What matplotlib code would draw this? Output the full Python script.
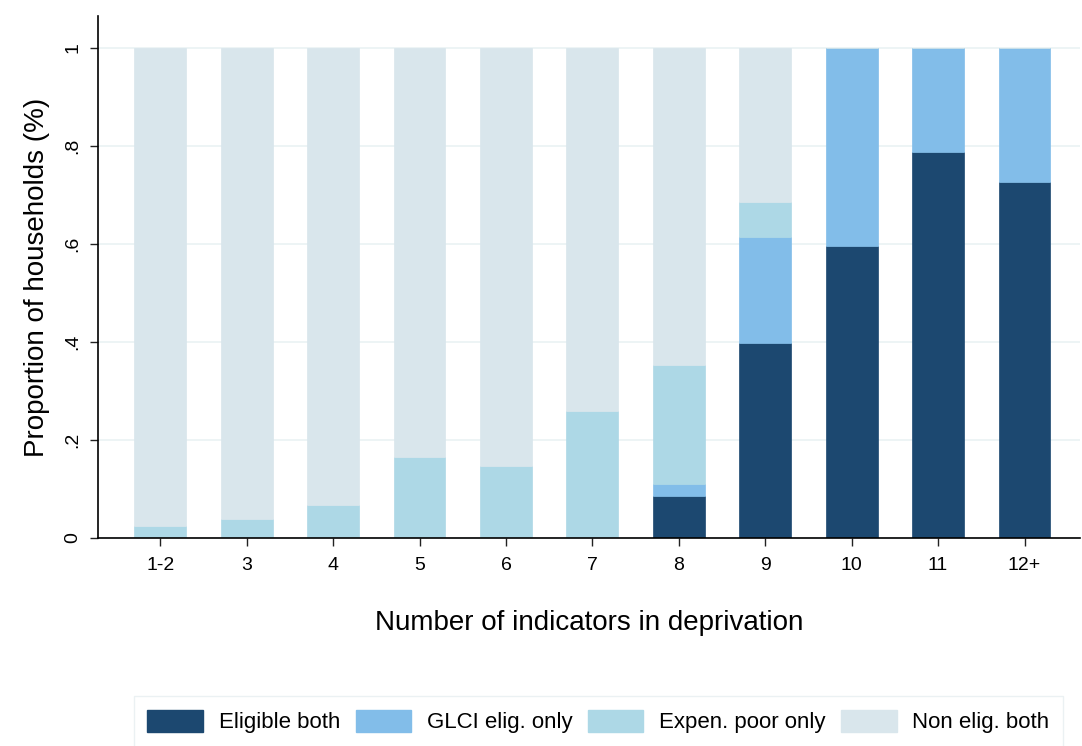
import numpy as np
import matplotlib.pyplot as plt
from matplotlib.patches import Patch

plt.rcParams['font.family'] = ['Liberation Sans', 'DejaVu Sans']

categories = ['1-2', '3', '4', '5', '6', '7', '8', '9', '10', '11', '12+']
eligible_both = [0, 0, 0, 0, 0, 0, 0.086, 0.397, 0.596, 0.788, 0.726]
glci_only = [0, 0, 0, 0, 0, 0, 0.024, 0.217, 0.404, 0.212, 0.274]
expen_only = [0.024, 0.039, 0.067, 0.165, 0.147, 0.258, 0.243, 0.072, 0, 0, 0]
labels = ['Eligible both', 'GLCI elig. only', 'Expen. poor only', 'Non elig. both']
colors = ['#1c4870', '#82bde9', '#add8e6', '#d9e6ec']

eb = np.array(eligible_both)
gl = np.array(glci_only)
ex = np.array(expen_only)
non = 1 - eb - gl - ex

fig = plt.figure(figsize=(10.82, 7.46), dpi=100)
ax = fig.add_axes([0.0906, 0.279, 0.9074, 0.6996])

x = np.arange(len(categories))
bottom = np.zeros(len(categories))
for vals, c in zip([eb, gl, ex, non], colors):
    ax.bar(x, vals, bottom=bottom, width=0.6, color=c, edgecolor=c, linewidth=0.5, zorder=2)
    bottom += vals

ax.set_xlim(-0.72, 10.64)
ax.set_ylim(0, 1.065)
ax.set_yticks([0, 0.2, 0.4, 0.6, 0.8, 1.0])
ax.set_yticklabels(['0', '.2', '.4', '.6', '.8', '1'], rotation=90, va='center', fontsize=14)
ax.set_xticks(x)
ax.set_xticklabels(categories, fontsize=14)
ax.tick_params(axis='both', length=6, width=1, color='#222222')
ax.tick_params(axis='x', pad=8)
ax.tick_params(axis='y', pad=6)
ax.grid(axis='y', color='#eaf2f3', linewidth=1.2, zorder=0)
ax.set_axisbelow(True)

for s in ['top', 'right']:
    ax.spines[s].set_visible(False)
ax.spines['left'].set_linewidth(1.2)
ax.spines['bottom'].set_linewidth(1.2)

ax.set_ylabel('Proportion of households (%)', fontsize=20, labelpad=10)
ax.set_xlabel('Number of indicators in deprivation', fontsize=20, labelpad=26)

handles = [Patch(facecolor=c, edgecolor=c) for c in colors]
leg = fig.legend(handles, labels, loc='lower center', bbox_to_anchor=(0.553, -0.016), ncol=4,
                 fontsize=16, frameon=True, fancybox=False, edgecolor='#e6eef0',
                 handlelength=2.5, handleheight=1.2, columnspacing=0.7, handletextpad=0.7,
                 borderpad=0.6)
leg.get_frame().set_linewidth(1.0)

fig.savefig('out.png', dpi=100)
